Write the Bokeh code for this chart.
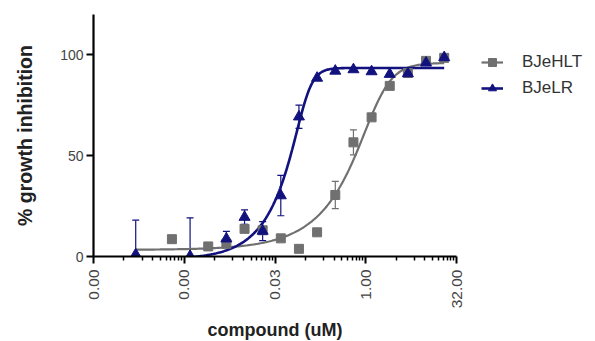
import numpy as np
from bokeh.plotting import figure
from bokeh.models import (ColumnDataSource, Whisker, TeeHead, Legend, LegendItem,
                          FixedTicker, PrintfTickFormatter, Range1d)
from bokeh.embed import file_html
from bokeh.resources import INLINE

# ---------------- data ----------------
# BJeLR (navy triangles)
lr_conc = [0.000153, 0.00122, 0.00488, 0.00977, 0.0195, 0.039, 0.078, 0.156,
           0.3125, 0.625, 1.25, 2.5, 5.0, 10.0, 20.0]
lr_inhib = [1.0, 0.2, 8.8, 19.5, 12.6, 30.2, 69.3, 88.5,
            92.0, 92.7, 91.7, 90.4, 90.7, 96.0, 98.7]
lr_err = [17.0, 19.0, 3.7, 3.6, 4.7, 10.0, 5.8, 0.0,
          0.0, 0.0, 0.0, 0.0, 0.0, 0.0, 0.0]

# BJeHLT (gray squares)
hlt_conc = [0.00061, 0.00244, 0.00488, 0.00977, 0.0195, 0.039, 0.078, 0.156,
            0.3125, 0.625, 1.25, 2.5, 5.0, 10.0, 20.0]
hlt_inhib = [8.6, 5.0, 6.3, 13.7, 13.0, 9.0, 3.8, 12.0,
             30.5, 56.6, 69.0, 84.6, 91.0, 97.0, 98.5]
hlt_err = [0.0, 0.0, 0.0, 0.0, 0.0, 0.0, 0.0, 0.0,
           6.8, 6.2, 0.0, 0.0, 0.0, 0.0, 0.0]

# fitted dose-response curves (asymmetric sigmoidal fit parameters)
lr_fit = dict(bottom=-1.5, top=93.5, ec50=0.102, hill=4.0, asym=0.25, x0=0.00122, x1=20.0)
hlt_fit = dict(bottom=3.3, top=96.0, ec50=1.569, hill=2.2, asym=0.34, x0=0.000153, x1=20.0)

x_major = [32.0 ** -3, 32.0 ** -2, 32.0 ** -1, 1.0, 32.0]
y_major = [0, 50, 100]

GRAY = "#707070"
NAVY = "#12127f"
FONT = "Liberation Sans"


def fit_curve(f, n=300):
    xs = np.logspace(np.log10(f["x0"]), np.log10(f["x1"]), n)
    ys = f["bottom"] + (f["top"] - f["bottom"]) / (1 + (f["ec50"] / xs) ** f["hill"]) ** f["asym"]
    return xs, ys


p = figure(frame_width=363, frame_height=242, x_axis_type="log",
           x_range=Range1d(32.0 ** -3, 32.0), y_range=Range1d(0, 120),
           output_backend="svg", toolbar_location=None,
           min_border_left=93, min_border_right=131, min_border_top=14, min_border_bottom=60)
p.xgrid.visible = False
p.ygrid.visible = False
p.outline_line_color = None
p.background_fill_color = "white"

# curves
hx, hy = fit_curve(hlt_fit)
lx, ly = fit_curve(lr_fit)
r_hl = p.line(hx, hy, line_color=GRAY, line_width=2.2)
r_ll = p.line(lx, ly, line_color=NAVY, line_width=2.6)

# error bars
def add_err(conc, val, err, color):
    val = np.array(val); err = np.array(err)
    m = err > 0
    up = val + err
    lo = np.maximum(val - err, 0)
    src = ColumnDataSource(dict(x=np.array(conc)[m], upper=up[m], lower=lo[m]))
    w = Whisker(base="x", upper="upper", lower="lower", source=src,
                line_color=color, line_width=1.2,
                upper_head=TeeHead(size=7, line_color=color, line_width=1.2),
                lower_head=TeeHead(size=7, line_color=color, line_width=1.2))
    p.add_layout(w)

add_err(hlt_conc, hlt_inhib, hlt_err, GRAY)
add_err(lr_conc, lr_inhib, lr_err, NAVY)

r_hm = p.scatter(hlt_conc, hlt_inhib, marker="square", size=9,
                 fill_color=GRAY, line_color=GRAY)
r_lm = p.scatter(lr_conc, lr_inhib, marker="triangle", size=11,
                 fill_color=NAVY, line_color=NAVY)

# axes
minor = [m * 3.2 * j for m in x_major[:-1] for j in range(1, 10)]
p.xaxis.ticker = FixedTicker(ticks=x_major, minor_ticks=minor)
p.xaxis.formatter = PrintfTickFormatter(format="%.2f")
p.xaxis.major_label_orientation = np.pi / 2
p.yaxis.ticker = FixedTicker(ticks=y_major, minor_ticks=[])

for ax in (p.xaxis[0], p.yaxis[0]):
    ax.axis_line_width = 2.2
    ax.axis_line_color = "black"
    ax.major_tick_line_width = 2
    ax.major_tick_line_color = "black"
    ax.major_tick_out = 7
    ax.major_tick_in = 0
    ax.minor_tick_out = 4
    ax.minor_tick_in = 0
    ax.minor_tick_line_width = 1.5
    ax.minor_tick_line_color = "black"
    ax.major_label_text_font = FONT
    ax.major_label_text_color = "#444444"
    ax.axis_label_text_font = FONT
    ax.axis_label_text_font_style = "bold"
    ax.axis_label_text_color = "#222222"

p.xaxis.major_label_text_font_size = "15.5px"
p.yaxis.major_label_text_font_size = "14px"
p.xaxis.axis_label_text_font_size = "18px"
p.yaxis.axis_label_text_font_size = "19.5px"

p.xaxis.axis_label = "compound (uM)"
p.yaxis.axis_label = "% growth inhibition"
p.xaxis.major_label_standoff = 6
p.yaxis.major_label_standoff = 3
p.xaxis.axis_label_standoff = 9
p.yaxis.axis_label_standoff = 21

legend = Legend(items=[LegendItem(label="BJeHLT", renderers=[r_hl, r_hm]),
                       LegendItem(label="BJeLR", renderers=[r_ll, r_lm])],
                location=(25, 158), orientation="vertical",
                glyph_width=22, glyph_height=20, label_height=20,
                label_standoff=19, spacing=6, padding=0, margin=0,
                border_line_color=None, background_fill_alpha=0,
                label_text_font=FONT, label_text_font_size="17px",
                label_text_color="#333333")
p.add_layout(legend, "right")

open("out.html", "w").write(file_html(p, INLINE))
